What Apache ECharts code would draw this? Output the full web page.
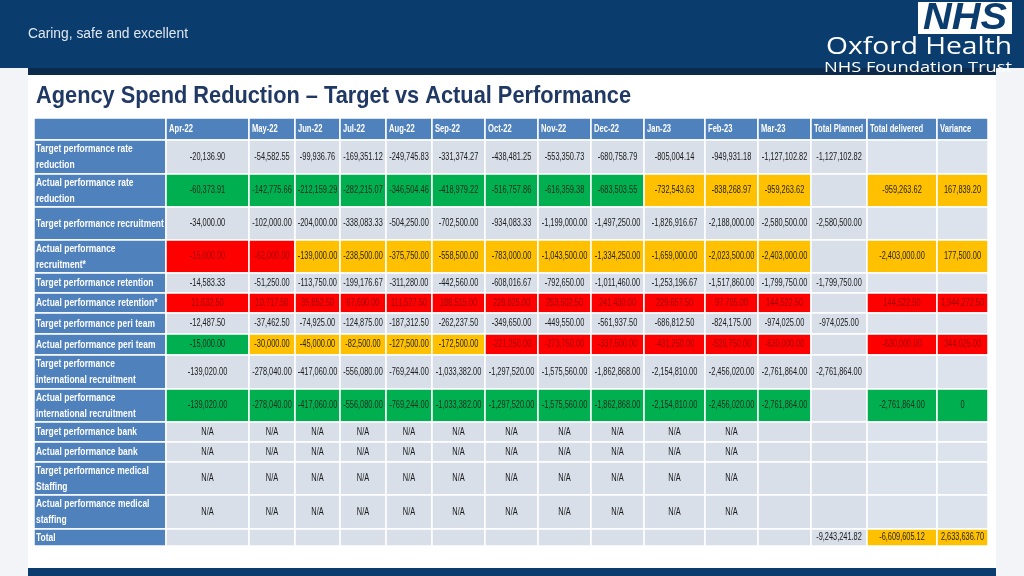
<!DOCTYPE html>
<html><head><meta charset="utf-8">
<script src="https://cdn.jsdelivr.net/npm/echarts@6/dist/echarts.min.js"></script>
<style>html,body{margin:0;padding:0;background:#f2f4f7}#c{width:1024px;height:576px}</style>
</head><body><div id="c"></div>
<script>
// ---------- DATA ----------
const months = ['Apr-22','May-22','Jun-22','Jul-22','Aug-22','Sep-22','Oct-22','Nov-22','Dec-22','Jan-23','Feb-23','Mar-23'];
const summaryCols = ['Total Planned','Total delivered','Variance'];
const rowLabels = [
  'Target performance rate\nreduction',
  'Actual performance rate\nreduction',
  'Target performance recruitment',
  'Actual performance\nrecruitment*',
  'Target performance retention',
  'Actual performance retention*',
  'Target performance peri team',
  'Actual performance peri team',
  'Target performance\ninternational recruitment',
  'Actual performance\ninternational recruitment',
  'Target performance bank',
  'Actual performance bank',
  'Target performance medical\nStaffing',
  'Actual performance medical\nstaffing',
  'Total'
];
// 12 months, then Total Planned, Total delivered, Variance
const targetRateReduction = [-20136.90,-54582.55,-99936.76,-169351.12,-249745.83,-331374.27,-438481.25,-553350.73,-680758.79,-805004.14,-949931.18,-1127102.82,-1127102.82,null,null];
const actualRateReduction = [-60373.91,-142775.66,-212159.29,-282215.07,-346504.46,-418979.22,-516757.86,-616359.38,-683503.55,-732543.63,-838268.97,-959263.62,null,-959263.62,167839.20];
const targetRecruitment = [-34000,-102000,-204000,-338083.33,-504250,-702500,-934083.33,-1199000,-1497250,-1826916.67,-2188000,-2580500,-2580500,null,null];
const actualRecruitment = [-15000,-62000,-139000,-238500,-375750,-558500,-783000,-1043500,-1334250,-1659000,-2023500,-2403000,null,-2403000,177500];
const targetRetention = [-14583.33,-51250,-113750,-199176.67,-311280,-442560,-608016.67,-792650,-1011460,-1253196.67,-1517860,-1799750,-1799750,null,null];
const actualRetention = [11632.50,10717.50,35852.50,67690,111527.50,188515,228825,253502.50,241430,229657.50,97705,144522.50,null,144522.50,1944272.50];
const targetPeriTeam = [-12487.50,-37462.50,-74925,-124875,-187312.50,-262237.50,-349650,-449550,-561937.50,-686812.50,-824175,-974025,-974025,null,null];
const actualPeriTeam = [-15000,-30000,-45000,-82500,-127500,-172500,-221250,-273750,-337500,-431250,-528750,-630000,null,-630000,344025];
const targetIntlRecruitment = [-139020,-278040,-417060,-556080,-769244,-1033382,-1297520,-1575560,-1862868,-2154810,-2456020,-2761864,-2761864,null,null];
const actualIntlRecruitment = [-139020,-278040,-417060,-556080,-769244,-1033382,-1297520,-1575560,-1862868,-2154810,-2456020,-2761864,null,-2761864,0];
const targetBank = ['N/A','N/A','N/A','N/A','N/A','N/A','N/A','N/A','N/A','N/A','N/A',null,null,null,null];
const actualBank = ['N/A','N/A','N/A','N/A','N/A','N/A','N/A','N/A','N/A','N/A','N/A',null,null,null,null];
const targetMedical = ['N/A','N/A','N/A','N/A','N/A','N/A','N/A','N/A','N/A','N/A','N/A',null,null,null,null];
const actualMedical = ['N/A','N/A','N/A','N/A','N/A','N/A','N/A','N/A','N/A','N/A','N/A',null,null,null,null];
const totals = [null,null,null,null,null,null,null,null,null,null,null,null,-9243241.82,-6609605.12,2633636.70];
// RAG status per cell (G green, A amber, R red, - none)
const ragActualRate        = 'GGGGGGGGGAAA-AA';
const ragActualRecruitment = 'RRAAAAAAAAAA-AA';
const ragActualRetention   = 'RRRRRRRRRRRR-RR';
const ragActualPeri        = 'GAAAAARRRRRR-RR';
const ragActualIntl        = 'GGGGGGGGGGGG-GG';
const ragTotals            = '-------------AA';

const tableRows = [
  [targetRateReduction, null], [actualRateReduction, ragActualRate],
  [targetRecruitment, null], [actualRecruitment, ragActualRecruitment],
  [targetRetention, null], [actualRetention, ragActualRetention],
  [targetPeriTeam, null], [actualPeriTeam, ragActualPeri],
  [targetIntlRecruitment, null], [actualIntlRecruitment, ragActualIntl],
  [targetBank, null], [actualBank, null],
  [targetMedical, null], [actualMedical, null],
  [totals, ragTotals]
];

// ---------- LAYOUT / STYLE ----------
const colWidths = [132,83,46,45,46,46,53,53,53,53,61,53,53,56,70,51];
const rowHeights = [22,34,33,33,33,20,20,21,21,34,33,20,20,33,34,17];
const SANS = "'Liberation Sans',Arial,sans-serif";
const BLUE = '#4f81bd';
const ragFill = {G:'#00b050', A:'#ffc000', R:'#ff0000'};
const ragText = {G:'#1b2a1b', A:'#262626', R:'#a00000'};

const mctx = document.createElement('canvas').getContext('2d');
function fitScale(text, font, targetW){ mctx.font = font; return targetW / mctx.measureText(text).width; }

function edges(arr){ const e=[0]; arr.forEach(w=>e.push(e[e.length-1]+w)); return e; }
const colEdges = edges(colWidths), rowEdges = edges(rowHeights);
function fmt(v){
  if (v === null || v === undefined) return '';
  if (typeof v === 'string') return v;
  if (v === 0) return '0';
  const neg = v < 0; const s = Math.abs(v).toFixed(2).split('.');
  return (neg?'-':'') + s[0].replace(/\B(?=(\d{3})+(?!\d))/g, ',') + '.' + s[1];
}

const cells = [];
function addCell(c, r, text, kind, fill, color){
  cells.push({value:[colEdges[c], rowEdges[r], colEdges[c+1], rowEdges[r+1]], text, kind, fill, color});
}
addCell(0, 0, '', 'head', BLUE, '#fff');
months.concat(summaryCols).forEach((m,i)=>addCell(i+1, 0, m, 'head', BLUE, '#fff'));
tableRows.forEach(([vals, rag], ri)=>{
  const r = ri + 1;
  addCell(0, r, rowLabels[ri], 'label', BLUE, '#fff');
  vals.forEach((v, ci)=>{
    const code = rag ? rag[ci] : '-';
    let fill = ci >= 13 ? '#dce3ec' : '#d8dfe9';
    let color = '#1a1a1a';
    if (code !== '-') { fill = ragFill[code]; color = ragText[code]; }
    addCell(ci+1, r, fmt(v), 'data', fill, color);
  });
});

const TITLE = 'Agency Spend Reduction \u2013 Target vs Actual Performance';
const TITLE_FONT = "bold 24px " + SANS;
const TAG = 'Caring, safe and excellent';
const TAG_FONT = "14px " + SANS;
const OXF_FONT = "24px 'Open Sans',sans-serif";
const TRUST_FONT = "15px 'Open Sans',sans-serif";
const NHS_FONT = "italic bold 36px " + SANS;

const totalW = colEdges[colEdges.length-1], totalH = rowEdges[rowEdges.length-1];
const chart = echarts.init(document.getElementById('c'), null, {renderer:'canvas'});
chart.setOption({
  backgroundColor:'#f2f4f7',
  animation:false,
  grid:{left:34, top:118, width:totalW, height:totalH},
  xAxis:{type:'value', min:0, max:totalW, show:false},
  yAxis:{type:'value', min:0, max:totalH, inverse:true, show:false},
  graphic:[
    {type:'rect', z:-10, shape:{x:0,y:0,width:1024,height:68}, style:{fill:'#0b3c6e'}},
    {type:'rect', z:-10, shape:{x:28,y:68,width:968,height:7}, style:{fill:'#0c2a4c'}},
    {type:'rect', z:-10, shape:{x:28,y:75,width:968,height:493}, style:{fill:'#ffffff'}},
    {type:'rect', z:-10, shape:{x:28,y:568,width:968,height:8}, style:{fill:'#0b3c6e'}},
    {type:'text', x:28, y:34, scaleX:fitScale(TAG, TAG_FONT, 160), style:{text:TAG, fill:'#dfe7f1', font:TAG_FONT, verticalAlign:'middle'}},
    {type:'rect', shape:{x:918,y:2,width:94,height:32}, style:{fill:'#ffffff'}},
    {type:'text', x:965, y:19, scaleX:fitScale('NHS', NHS_FONT, 84), style:{text:'NHS', fill:'#0b3c6e', font:NHS_FONT, align:'center', verticalAlign:'middle'}},
    {type:'text', x:1012, y:47, scaleX:fitScale('Oxford Health', OXF_FONT, 186), style:{text:'Oxford Health', fill:'#ffffff', font:OXF_FONT, align:'right', verticalAlign:'middle'}},
    {type:'text', x:1012, y:68, scaleX:fitScale('NHS Foundation Trust', TRUST_FONT, 188), style:{text:'NHS Foundation Trust', fill:'#ffffff', font:TRUST_FONT, align:'right', verticalAlign:'middle'}},
    {type:'text', x:36, y:96, scaleX:fitScale(TITLE, TITLE_FONT, 595), style:{text:TITLE, fill:'#1f3864', font:TITLE_FONT, verticalAlign:'middle'}}
  ],
  series:[{
    type:'custom',
    clip:false,
    coordinateSystem:'cartesian2d',
    encode:{x:[0,2], y:[1,3]},
    data: cells,
    renderItem:function(params, api){
      const it = cells[params.dataIndex];
      const p0 = api.coord([api.value(0), api.value(1)]);
      const p1 = api.coord([api.value(2), api.value(3)]);
      const w = p1[0]-p0[0], h = p1[1]-p0[1];
      let tx, align, font, lh, sx;
      if (it.kind === 'head') { tx = p0[0]+3; align='left'; font='bold 10px '+SANS; lh=12; sx=0.76; }
      else if (it.kind === 'label') { tx = p0[0]+2; align='left'; font='bold 11px '+SANS; lh=16; sx=0.77; }
      else { tx = p0[0]+w/2; align='center'; font='10px '+SANS; lh=12; sx=0.74; }
      return {type:'group', children:[
        {type:'rect', shape:{x:p0[0], y:p0[1], width:w, height:h}, style:{fill:it.fill, stroke:'#ffffff', lineWidth:1.5}},
        {type:'text', x:tx, y:p0[1]+h/2, scaleX:sx, style:{text:it.text, fill:it.color, font:font, align:align, verticalAlign:'middle', lineHeight:lh}}
      ]};
    }
  }]
});
</script>
</body></html>
